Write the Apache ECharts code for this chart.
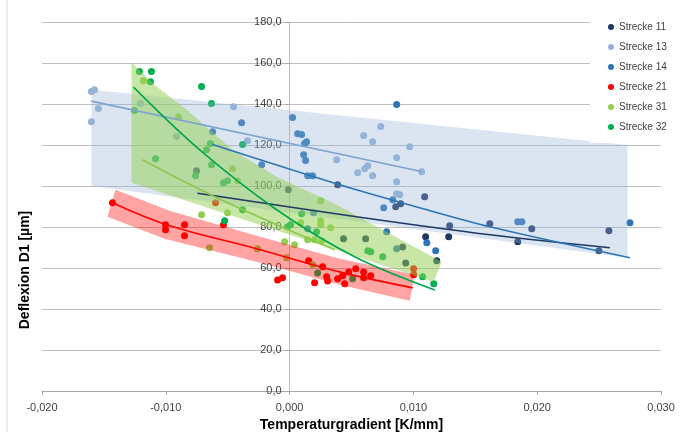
<!DOCTYPE html>
<html><head><meta charset="utf-8">
<script src="https://cdn.jsdelivr.net/npm/echarts@6/dist/echarts.min.js"></script>
<style>html,body{margin:0;padding:0;background:#fff;overflow:hidden}#c{width:680px;height:432px}</style>
</head><body><div id="c"></div>
<script>
// ---------- data ----------
const seriesNames = ['Strecke 11','Strecke 13','Strecke 14','Strecke 21','Strecke 31','Strecke 32'];
const seriesColors = ['#1F3864','#95B3D7','#2E75B6','#FF0000','#92D050','#00B050'];
const lineColors = ['#1F3864','#7FA3D0','#2E75B6','#FF0000','#8CC84B','#00A64C'];
const xTicks = [-0.02,-0.01,0,0.01,0.02,0.03];
const yTicks = [0,20,40,60,80,100,120,140,160,180];

const s11 = [[-0.0001,98.2],[0.00388,100.6],[-0.00752,107.5],[0.00614,74.3],[0.00436,74.3],[0.00857,89.9],[0.00897,91.3],[0.01091,94.8],[0.01293,80.6],[0.01285,75.2],[0.01099,75.2],[0.00913,70.3],[0.00938,62.5],[0.01188,63.5],[0.01617,81.6],[0.01843,72.8],[0.01956,79.1],[0.02579,78.2],[0.02498,68.4]];
const s13 = [[-0.01601,146.1],[-0.01576,147.0],[-0.01544,137.8],[-0.01601,131.4],[-0.01204,140.2],[-0.00913,124.1],[-0.00453,138.7],[-0.0034,122.1],[0.0038,112.8],[0.00736,129.0],[0.00598,124.6],[0.00671,121.6],[0.0097,119.2],[0.00865,113.8],[0.01067,107.0],[0.00631,109.9],[0.00606,108.4],[0.0055,106.5],[0.00671,105.0],[0.00865,102.1],[0.00865,96.2],[0.00889,95.7]];
const s14 = [[-0.00622,126.5],[-0.00388,130.9],[-0.00226,110.4],[0.00024,133.4],[0.00065,125.5],[0.00097,125.1],[0.00137,121.6],[0.00121,120.7],[0.00113,115.3],[0.00129,112.4],[0.00146,105.0],[0.00186,105.0],[0.00865,139.7],[0.00833,93.3],[0.0076,89.4],[0.00784,77.7],[0.01108,72.3],[0.0118,68.4],[0.01843,82.6],[0.01876,82.6],[0.02749,82.1],[0.00194,87.0],[0.00146,79.1],[0.00865,69.4]];
const s21 = [[-0.01431,91.8],[-0.01002,81.1],[-0.01002,78.6],[-0.00849,81.1],[-0.00849,75.7],[-0.00534,81.1],[-0.00598,91.8],[0.00154,63.5],[0.00267,60.6],[-0.00097,54.2],[-0.00057,55.2],[0.00202,52.8],[0.00299,55.7],[0.00307,53.7],[0.00388,54.7],[0.00428,56.2],[0.00477,58.1],[0.00445,52.3],[0.00534,59.6],[0.00598,58.1],[0.00598,55.2],[0.00655,56.2],[0.01002,59.6],[0.01002,56.7]];
const s31 = [[-0.0118,151.4],[-0.00897,133.8],[-0.00461,108.4],[-0.0042,102.6],[-0.00711,86.0],[-0.00501,87.0],[-0.00647,69.9],[-0.00259,69.4],[-0.0004,72.8],[0.0004,71.3],[-0.00024,65.0],[0.00186,61.6],[0.00251,92.8],[0.00251,83.0],[0.00251,81.1],[0.00331,79.6],[0.00089,82.1],[0.00146,73.8],[0.00202,73.8],[0.00259,73.3]];
const s32 = [[-0.01213,155.8],[-0.01116,155.8],[-0.01124,150.9],[-0.00711,148.5],[-0.00631,140.2],[-0.01253,136.8],[-0.01083,113.3],[-0.0038,120.2],[-0.00639,120.7],[-0.00671,117.7],[-0.00631,110.4],[-0.0076,105.0],[-0.00534,101.6],[-0.00501,102.6],[-0.0038,88.4],[-0.00525,83.0],[0.00097,86.5],[0.00008,81.1],[-0.00016,80.1],[0.00218,77.7],[0.00631,68.4],[0.00655,67.9],[0.00752,65.5],[0.01075,55.7],[0.01164,52.3],[0.00226,57.6],[0.00509,54.7]];

// trend lines
const t11 = [[-0.00744,96.5],[0.00525,85.1],[0.01617,76.2],[0.02587,69.9]];
const t13 = [[-0.01603,141.4],[0.01065,107.1]];
const t14 = [[-0.00622,120.2],[0.00404,100.6],[0.01051,89.4],[0.01617,80.1],[0.02749,65.0]];
const t21 = [[-0.01431,91.8],[-0.00994,81.1],[-0.00267,69.4],[0.00404,58.1],[0.00994,50.3]];
const t31 = [[-0.01188,112.8],[-0.00606,94.8],[0.00364,68.9]];
const t32 = [[-0.01261,148.2],[-0.00728,117.7],[-0.00105,88.4],[0.00525,65.5],[0.01172,49.3]];

// bands (polygons in data units)
const bandBlue = [[-0.016,147],[0.0273,120],[0.0273,65],[-0.016,100]];
const bandGreen = [[-0.01277,160.2],[-0.01075,148.5],[-0.00833,137.3],[-0.00461,117.7],[-0.00105,104.5],[0.00348,91.8],[0.01229,63.0],[0.01164,53.2],[-0.01277,101.6]];
const bandRed = [[-0.01407,98.2],[-0.0097,87.9],[-0.00267,75.7],[0.00404,64.5],[0.01011,56.7],[0.0097,44.0],[0.00404,51.8],[-0.00267,63.0],[-0.01011,74.3],[-0.01471,85.0]];

// ---------- chart ----------
const FONT = 'Arial, "Liberation Sans", sans-serif';
const chart = echarts.init(document.getElementById('c'), null, {renderer:'canvas', width:680, height:432});
const scatterData = [s11,s13,s14,s21,s31,s32];
const trendData = [t11,t13,t14,t21,t31,t32];

function band(verts, color, opacity){
  return {type:'custom', silent:true, z:3, data:[[0,0]],
    renderItem:(p, api)=>({type:'polygon', shape:{points: verts.map(v=>api.coord(v))}, style:{fill:color, opacity:opacity}})};
}
function fmt(v, d){ if (Math.abs(v)<1e-9) v=0; return v.toFixed(d).replace('.', ','); }

const series = [];
scatterData.forEach((d,i)=>series.push({type:'scatter', name:seriesNames[i], data:d, symbolSize:7, z:2,
  itemStyle:{color:seriesColors[i], opacity:1}}));
series.push(band(bandBlue,'#95B3D7',0.34));
series.push(band(bandGreen,'#92D050',0.5));
series.push(band(bandRed,'#FF0000',0.36));
trendData.forEach((d,i)=>series.push({type:'line', name:'t'+i, data:d, symbol:'none', smooth:d.length>2?0.35:false, z:4,
  lineStyle:{color:lineColors[i], width:1.6}}));

const gridL = 42, gridR = 19, plotW = 680 - gridL - gridR;
const zeroOffset = (0 - xTicks[0]) / (xTicks[xTicks.length-1] - xTicks[0]) * plotW;

chart.setOption({
  animation:false,
  backgroundColor:'#fff',
  textStyle:{fontFamily:FONT},
  grid:{left:gridL, right:gridR, top:22, bottom:41, containLabel:false, outerBoundsMode:'none'},
  xAxis:{type:'value', min:xTicks[0], max:xTicks[xTicks.length-1], interval:0.01,
    name:'Temperaturgradient [K/mm]', nameLocation:'middle', nameGap:25,
    nameTextStyle:{fontSize:14, fontWeight:'bold', color:'#000', fontFamily:FONT},
    axisLine:{onZero:false, lineStyle:{color:'#A6A6A6'}},
    axisTick:{show:true, length:4, lineStyle:{color:'#A6A6A6'}},
    axisLabel:{fontSize:11, color:'#404040', margin:11, formatter:v=>fmt(v,3)},
    splitLine:{show:false}},
  yAxis:{type:'value', min:yTicks[0], max:yTicks[yTicks.length-1], interval:20,
    offset:-zeroOffset,
    axisLine:{show:true, onZero:false, lineStyle:{color:'#BFBFBF'}},
    axisTick:{show:true, length:4, lineStyle:{color:'#A6A6A6'}},
    axisLabel:{fontSize:11, color:'#404040', margin:8, formatter:v=>fmt(v,1)},
    splitLine:{show:true, lineStyle:{color:'#BFBFBF', width:1}}},
  legend:{data:seriesNames.map(n=>({name:n, icon:'circle'})), orient:'vertical', left:608, top:21, z:11,
    itemWidth:6, itemHeight:6, itemGap:8, padding:0,
    textStyle:{fontSize:10, color:'#404040', lineHeight:12, fontFamily:FONT}},
  graphic:[
    {type:'rect', z:10, shape:{x:590, y:10, width:90, height:133}, style:{fill:'#fff'}},
    {type:'line', z:10, shape:{x1:7, y1:0, x2:7, y2:432}, style:{stroke:'#D9D9D9', lineWidth:1}},
    {type:'text', z:10, x:25, y:270, rotation:Math.PI/2,
      style:{text:'Deflexion D1 [µm]', font:'bold 14px '+FONT, fill:'#000', textAlign:'center', textVerticalAlign:'middle'}}
  ],
  series:series
});
</script></body></html>
